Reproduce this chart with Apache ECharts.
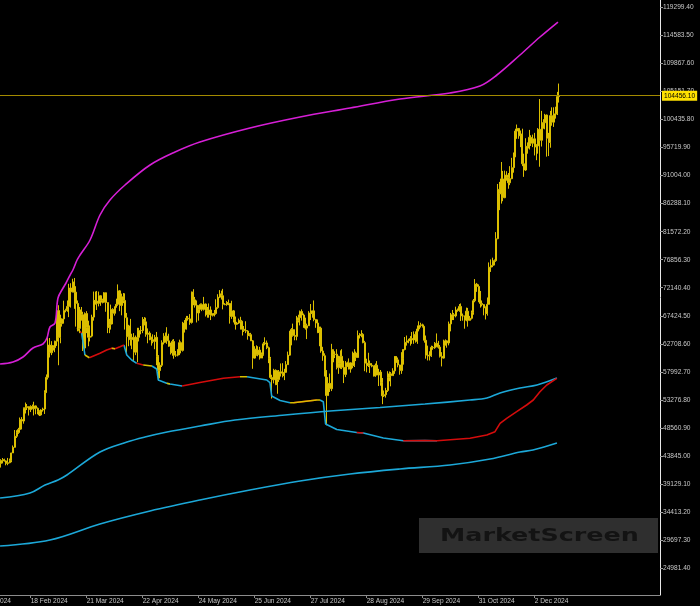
<!DOCTYPE html>
<html>
<head>
<meta charset="utf-8">
<script src="https://cdn.jsdelivr.net/npm/echarts@6.0.0/dist/echarts.min.js"></script>
<style>
html,body{margin:0;padding:0;background:#000;}
#chart{width:700px;height:606px;}
</style>
</head>
<body>
<div id="chart"></div>
<script>
// ---------- DATA ----------
// Daily candles [open, close, low, high], first candle on firstCandleDate
const firstCandleDate = '2024-01-31';
const candles = [
[42950,42580,42300,43750],
// Feb
[42580,43080,41880,43290],[43080,43190,42580,43490],[43190,43000,42890,43380],[43000,42580,42260,43110],[42580,42700,42280,43500],
[42700,43090,42600,43400],[43090,44340,42780,44380],[44340,45290,44330,45600],[45290,47150,45240,48200],[47150,47770,46860,48160],
[47770,48290,47550,48570],[48290,49960,47730,50300],[49960,49710,48300,50370],[49710,51840,49270,52000],[51840,51950,50980,52820],
[51950,52140,51560,52580],[52140,51640,50640,52170],[51640,52130,51220,52360],[52130,51780,51700,52480],[51780,52260,50650,52960],
[52260,51850,50850,52350],[51850,51300,50850,52000],[51300,50730,50550,51530],[50730,51570,50600,51690],[51570,51730,51290,51960],
[51730,54490,50900,54890],[54490,57060,54450,57550],[57060,62500,56700,64000],[62500,61200,60400,63680],
// Mar
[61200,62400,60800,63150],[62400,62050,61580,62430],[62050,63150,61300,63230],[63150,68300,62350,68500],[68300,63800,59100,69200],
[63800,66100,62800,67600],[66100,66900,65600,67000],[66900,68300,66100,69960],[68300,68500,68000,68600],[68500,69000,68100,70000],
[69000,72100,67200,72800],[72100,71450,68800,72900],[71450,73100,71350,73650],[73100,71400,68600,73780],[71400,69500,65600,72400],
[69500,65300,64800,70000],[65300,68400,64500,68900],[68400,67600,66600,68900],[67600,62000,61500,68100],[62000,67800,60800,68000],
[67800,65500,64500,68200],[65500,63800,62300,66600],[63800,64000,63100,65800],[64000,67200,63800,67600],[67200,70000,66600,71500],
[70000,69900,69300,71500],[69900,69500,68400,71600],[69500,70800,69000,71500],[70800,70000,69100,70900],[70000,69700,69500,70300],
[69700,71300,69600,71400],
// Apr
[71300,69650,68100,71350],[69650,65450,64500,69650],[65450,65980,64500,66900],[65980,68500,65100,69300],[68500,67840,66000,68700],
[67840,68900,67450,69000],[68900,69350,68800,70300],[69350,71620,69100,72700],[71620,69150,68200,71750],[69150,70600,67500,71150],
[70600,70000,69550,71250],[70000,67100,65100,71200],[67100,63900,60900,67900],[63900,65700,62300,65900],[65700,63400,62400,66900],
[63400,63800,61800,64400],[63800,61300,59800,64500],[61300,63500,60800,64100],[63500,63800,59600,65400],[63800,64950,63100,65400],
[64950,64940,64300,65700],[64940,66800,64500,67200],[66800,66400,65800,67200],[66400,64300,63900,67100],[64300,64500,62800,65300],
[64500,63800,63300,64800],[63800,63400,62400,63900],[63400,63100,62800,64300],[63100,63800,61800,64200],[63800,60600,59100,64700],
// May
[60600,58200,56500,60800],[58200,59100,56900,59600],[59100,62900,58800,63300],[62900,63900,62600,64500],[63900,64000,62900,64600],
[64000,63200,62700,65500],[63200,62300,62200,64400],[62300,61200,60900,62900],[61200,63100,60700,63400],[63100,60800,60200,63500],
[60800,60800,60500,61500],[60800,61500,60600,61800],[61500,62900,60800,63400],[62900,61600,61100,63100],[61600,66200,61400,66400],
[66200,65200,64600,66700],[65200,67000,65100,67400],[67000,66900,66600,67400],[66900,66300,65900,67700],[66300,71400,66100,71500],
[71400,70100,69200,71900],[70100,69200,68800,70600],[69200,67900,66300,70000],[67900,68500,66600,69200],[68500,69300,68500,69500],
[69300,68500,68200,69500],[68500,69400,68300,70600],[69400,68300,67300,69500],[68300,67600,67100,68900],[67600,68400,67100,69500],
[68400,67500,66700,69000],
// Jun
[67500,67750,67300,67850],[67750,67800,67300,68400],[67800,68800,67600,70200],[68800,70550,68600,71050],[70550,71100,70400,71750],
[71100,70800,70150,71650],[70800,69350,68500,71950],[69350,69300,69200,69550],[69300,69650,69100,69900],[69650,69500,69200,70150],
[69500,67300,66100,69550],[67300,68250,66900,69950],[68250,66750,66300,68400],[66750,66000,65100,67300],[66000,66200,65900,66400],
[66200,66650,66050,66950],[66650,66500,65100,67250],[66500,65150,64100,66550],[65150,64950,64700,65700],[64950,64850,64500,66500],
[64850,64100,63400,65000],[64100,64250,63950,64500],[64250,63200,63200,64550],[63200,60300,58500,63350],[60300,61800,60200,62300],
[61800,60850,60700,62450],[60850,61650,60600,62300],[61650,60300,60050,62200],[60300,60950,60300,61250],[60950,62700,60700,63000],
// Jul
[62700,62850,62450,63800],[62850,62050,61800,63250],[62050,60200,59450,62250],[60200,57050,56800,60500],[57050,56650,53500,57500],
[56650,58250,56050,58500],[58250,55850,55750,58400],[55850,56700,54300,58250],[56700,58000,56300,58300],[58000,57750,57200,59400],
[57750,57350,57050,59450],[57350,57900,56600,58500],[57900,59200,57800,59800],[59200,60800,59200,61400],[60800,64700,60700,64900],
[64700,65100,62450,65350],[65100,64100,63900,66100],[64100,63950,63300,65150],[63950,66650,63300,67400],[66650,67100,66300,67600],
[67100,68150,65800,68300],[68150,67550,66600,68500],[67550,65900,65400,67800],[65900,65350,65100,67100],[65350,65750,63500,66100],
[65750,67900,65700,68200],[67900,67800,66700,69400],[67800,68250,67100,68300],[68250,66800,66500,70000],[66800,66200,65400,66900],
[66200,64600,64500,66800],
// Aug
[64600,65350,62300,65600],[65350,61500,61200,65600],[61500,60700,59850,62200],[60700,58150,57200,61100],[58150,54000,49000,58300],
[54000,56050,54000,57100],[56050,55150,54600,57700],[55150,61700,54750,62700],[61700,60900,59600,61750],[60900,60950,60300,61450],
[60950,58700,58400,61800],[58700,59350,57650,60700],[59350,60600,58500,61600],[60600,58750,58450,61800],[58750,57550,56100,59850],
[57550,58900,57100,59800],[58900,59500,58800,59700],[59500,58450,58400,60250],[58450,59500,57850,59600],[59500,59050,58600,61400],
[59050,61150,58800,61800],[61150,60400,59800,61400],[60400,64100,60350,64950],[64100,64200,63600,64500],[64200,64300,63800,65000],
[64300,62900,62800,64500],[62900,59450,58100,63200],[59450,59050,57900,60200],[59050,59400,58800,61200],[59400,59100,57800,59900],
[59100,58950,58750,59450],
// Sep
[58950,57300,57200,59050],[57300,59100,57150,59400],[59100,57450,57400,59800],[57450,57950,55600,58500],[57950,56150,55650,58300],
[56150,53950,52550,56950],[53950,54150,53750,54850],[54150,54850,53650,55300],[54850,57050,54600,58100],[57050,57650,56400,58050],
[57650,57350,55550,57950],[57350,58150,57350,58600],[58150,60550,57650,60650],[60550,60000,59500,60650],[60000,59150,58750,60400],
[59150,58200,57500,59200],[58200,60300,57650,61300],[60300,61750,59200,61800],[61750,62950,61600,63850],[62950,63200,62400,64100],
[63200,63350,62800,63550],[63350,63600,62400,64000],[63600,63350,62700,64700],[63350,64300,62700,64800],[64300,63150,62900,64800],
[63150,65200,62700,65800],[65200,65800,64800,66500],[65800,65900,65450,66250],[65900,65650,65450,66100],[65650,63300,62900,65650],
// Oct
[63300,60800,60200,64100],[60800,60650,59900,62400],[60650,60750,59900,61450],[60750,62100,60500,62400],[62100,62050,61700,62350],
[62050,62800,61850,63000],[62800,62200,62150,64450],[62200,62150,61900,63200],[62150,60600,60400,62500],[60600,60300,58900,61300],
[60300,62450,60200,63400],[62450,63200,62450,63450],[63200,62850,62050,63300],[62850,66050,62450,66450],[66050,67050,64800,67900],
[67050,67600,66700,68400],[67600,67400,66700,67900],[67400,68400,67150,68950],[68400,68350,68100,68650],[68350,69000,68100,69400],
[69000,67400,66550,69500],[67400,67400,66600,67800],[67400,66700,65250,67450],[66700,68200,66500,68800],[68200,66650,65600,68750],
[66650,67000,66600,67400],[67000,68000,66800,68300],[68000,69950,67600,70250],[69950,72750,69700,73600],[72750,72350,71450,72950],
[72350,70250,69700,72700],
// Nov
[70250,69500,68800,71600],[69500,69300,69000,70000],[69300,68750,67500,69400],[68750,67800,66800,69000],[67800,69350,67450,70500],
[69350,75600,69300,76400],[75600,75900,74800,76900],[75900,76500,75600,77200],[76500,76700,75900,76900],[76700,80400,76500,81500],
[80400,88700,80300,89600],[88700,87950,85200,89950],[87950,90450,86300,93300],[90450,87300,86700,91800],[87300,91100,87200,91850],
[91100,90650,90150,91750],[90650,89800,88800,91450],[89800,90500,89400,92600],[90500,92350,90400,94000],[92350,94300,91500,94900],
[94300,98500,94100,98900],[98500,98950,97200,99600],[98950,97700,97200,98800],[97700,98000,95800,98600],[98000,93000,92600,98900],
[93000,91950,90800,94700],[91950,95950,91800,97300],[95950,95650,94700,96600],[95650,97450,95400,98700],[97450,96450,96000,97800],
// Dec
[96450,97200,95800,97900],[97200,95850,94400,98200],[95850,96000,93600,96300],[96000,98800,94700,99000],[98800,96950,92500,103900],
[96950,99850,95900,101900],[99850,99900,98900,100500],[99900,101200,98800,101400],[101200,97300,94200,101300],[97300,96600,94300,98200],
[96600,101100,95700,101900],[101100,100000,99400,102500],[100000,101400,99200,102500],[101400,101400,100600,102600],[101400,104300,101200,105100],
[104300,104456.1,103300,106500]
];

const lastPrice = 104456.10;

// Upper band (magenta). Days are counted from 2024-01-01.
const upperDays = [30.5,37.9,43.6,49.3,55.0,57.3,59.0,61.9,63.6,66.5,68.2,70.5,72.1,74.5,76.2,81.9,87.6,93.3,101.9,116.2,130.5,144.7,173.3,201.9,230.5,259.0,287.6,304.7,314.4,327.6,339.0,349.3];
const upperVals = [59308,59645,60486,62000,62673,63683,65534,66207,70414,72097,72938,74284,75127,76808,77650,80174,84380,86906,89429,92794,94981,96664,99020,100870,102385,103900,104909,106087,107938,111304,114333,116856];

// Lower band 1 (cyan)
const lower1Days = [30.5,47.6,56.2,63.6,68.7,87.6,103.0,113.3,125.9,144.7,164.7,193.3,219.0,247.6,273.3,299.0,308.7,316.2,327.6,337.3,348.7];
const lower1Vals = [36760,37601,38947,39789,40630,44500,46183,47024,47866,48875,49885,50726,51399,51988,52577,53250,53587,54428,55270,55774,56952];

// Lower band 2 (cyan)
const lower2Days = [30.5,59.0,87.6,116.2,144.7,173.3,201.9,230.5,259.0,287.6,310.5,327.6,335.0,348.7];
const lower2Vals = [28683,29693,32385,34573,36424,38106,39621,40799,41640,42313,43323,44500,44837,46015];

// Trailing line, colour of the segment that starts at each point (r = rising, c = falling, y = flat)
const trailDays = [74.6,76.2,77.1,79.0,81.5,87.6,91.4,94.3,96.2,99.0,101.3,102.9,105.7,108.6,112.3,117.3,120.0,120.9,125.7,127.6,134.5,144.7,158.1,167.6,171.6,182.9,184.7,185.7,190.5,196.2,198.1,211.4,213.3,215.2,216.5,222.9,234.3,238.1,249.5,260.9,273.3,280.2,299.0,308.6,313.3,316.2,320.0,325.7,331.4,335.2,339.0,342.9,348.6];
const trailVals = [65366,64743,64524,60823,60368,61109,61664,61950,61883,62219,62505,60823,59981,59426,59140,58972,58467,56616,56060,55943,55606,56195,56902,57171,57171,56616,56161,53923,53166,52796,52796,53250,53250,52964,49212,48286,47782,47697,46856,46402,46435,46402,46806,47361,47916,49330,50171,51282,52409,53250,54647,55774,56902];
const trailColors = ['y','r','c','y','r','r','r','y','r','r','c','c','c','r','y','c','c','c','y','c','r','r','r','y','c','c','c','c','c','y','r','y','c','c','c','c','r','c','c','r','c','r','r','r','r','r','r','r','r','r','r','r','r'];

// Axis ticks
const yTickValues = [24981.40,29697.30,34413.20,39129.10,43845.00,48560.90,53276.80,57992.70,62708.60,67424.50,72140.40,76856.30,81572.20,86288.10,91004.00,95719.90,100435.80,105151.70,109867.60,114583.50,119299.40];
const xTickDates = ['2024-01-17','2024-02-18','2024-03-21','2024-04-22','2024-05-24','2024-06-25','2024-07-27','2024-08-28','2024-09-29','2024-10-31','2024-12-02'];
const watermarkText = 'MarketScreen';

// ---------- HELPERS ----------
const MONTHS = ['Jan','Feb','Mar','Apr','May','Jun','Jul','Aug','Sep','Oct','Nov','Dec'];
const BASE = Date.UTC(2024,0,1);
function dayIndex(s){ const p = s.split('-').map(Number); return (Date.UTC(p[0],p[1]-1,p[2]) - BASE)/86400000; }
function fmtDay(d){ const dt = new Date(BASE + Math.round(d)*86400000); return dt.getUTCDate()+' '+MONTHS[dt.getUTCMonth()]+' '+dt.getUTCFullYear(); }

const startDay = dayIndex(firstCandleDate);
const candleData = candles.map((c,i)=>[startDay+i, c[0], c[1], c[2], c[3]]);
const xTickDays = xTickDates.map(dayIndex);
const pairs = (xs, ys) => xs.map((x,i)=>[x, ys[i]]);

const COL = {r:'#d40c0c', c:'#1ca8d8', y:'#d8be00'};
function trailSeries(key){
  const data = trailDays.map((d,i)=>{
    const on = trailColors[i]===key || (i>0 && trailColors[i-1]===key);
    return [d, on ? trailVals[i] : null];
  });
  return {type:'line', data, showSymbol:false, connectNulls:false, silent:true, z:4,
    lineStyle:{color:COL[key], width:1.6}};
}

const FONT = '"Liberation Sans",Arial,sans-serif';
const FS = 6.6;
const CANDLE = '#dcbf00';
const chart = echarts.init(document.getElementById('chart'), null, {renderer:'canvas'});
function watermark(extra){
  return [
    {type:'rect', left:419, top:518, shape:{width:239, height:35}, style:{fill:'#2f2f2f'}, z:0},
    {type:'text', x:440, y:536, scaleX:1.41, z:1, style:{text:watermarkText, fill:'#131313', font:'bold 18px "DejaVu Sans"', textVerticalAlign:'middle'}}
  ].concat(extra || []);
}
chart.setOption({
  backgroundColor:'#000',
  animation:false,
  grid:{left:0, right:40, top:0, bottom:11, containLabel:false},
  xAxis:{type:'value', min:30.46, max:407.6,
    axisLine:{show:true, onZero:false, lineStyle:{color:'#8c8c8c', width:1}},
    axisTick:{show:true, customValues:xTickDays, length:3, lineStyle:{color:'#8c8c8c'}},
    axisLabel:{customValues:xTickDays, formatter:fmtDay, align:'left', color:'#c8c8c8', fontSize:FS, fontFamily:FONT, margin:2.5},
    splitLine:{show:false}},
  yAxis:{type:'value', position:'right', min:20438, max:120559,
    axisLine:{show:true, lineStyle:{color:'#e8e8e8', width:1}},
    axisTick:{show:true, customValues:yTickValues, length:3, lineStyle:{color:'#a0a0a0'}},
    axisLabel:{customValues:yTickValues, formatter:v=>v.toFixed(2), color:'#c8c8c8', fontSize:FS, fontFamily:FONT, margin:3},
    splitLine:{show:false}},
  series:[
    {type:'candlestick', data:candleData, barWidth:1.5, z:2,
      itemStyle:{color:CANDLE, color0:CANDLE, borderColor:CANDLE, borderColor0:CANDLE, borderWidth:1},
      markLine:{silent:true, symbol:['none','none'], data:[{yAxis:lastPrice}],
        lineStyle:{color:'#a38a00', width:1, type:'solid', opacity:1},
        label:{position:'end', formatter:lastPrice.toFixed(2), backgroundColor:'#ffe100', color:'#000', fontSize:FS, fontFamily:FONT, padding:[2,2,1,2], distance:2}}},
    {type:'line', data:pairs(upperDays, upperVals), smooth:0.35, showSymbol:false, silent:true, z:3, lineStyle:{color:'#d61fd6', width:1.6}},
    {type:'line', data:pairs(lower1Days, lower1Vals), smooth:0.35, showSymbol:false, silent:true, z:3, lineStyle:{color:'#1ca8d8', width:1.6}},
    {type:'line', data:pairs(lower2Days, lower2Vals), smooth:0.35, showSymbol:false, silent:true, z:3, lineStyle:{color:'#1ca8d8', width:1.6}},
    trailSeries('c'), trailSeries('r'), trailSeries('y')
  ],
  graphic: watermark()
});
// partially visible first date label (left of the plot), placed via the axis scale
const px = chart.convertToPixel({xAxisIndex:0}, xTickDays[0]);
const py = chart.convertToPixel({yAxisIndex:0}, 20438);
chart.setOption({graphic: watermark([
  {type:'text', x:px, y:py+2.5, style:{text:fmtDay(xTickDays[0]), fill:'#c8c8c8', font:FS+'px '+FONT, textAlign:'left', textVerticalAlign:'top'}}
])});
</script>
</body>
</html>
